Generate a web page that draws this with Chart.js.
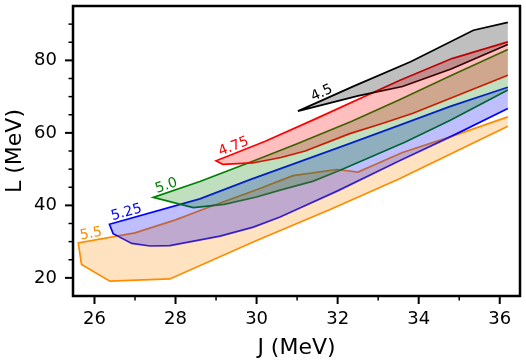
<!DOCTYPE html>
<html>
<head>
<meta charset="utf-8">
<script src="https://cdn.jsdelivr.net/npm/chart.js@4.4.0/dist/chart.umd.min.js"></script>
<style>
  html, body { margin: 0; padding: 0; background: #fff; }
  canvas { display: block; }
</style>
</head>
<body>
<canvas id="chart" width="526" height="362"></canvas>
<script>
// band names and colours
const bandNames = ['4.5', '4.75', '5.0', '5.25', '5.5'];
const bandColors = ['#000000', '#ff0000', '#008000', '#0000ff', '#ff8c00'];

// upper and lower edge of each band, J (MeV) and L (MeV)
const upperJ45 = [31.02, 32.4, 33.8, 35.35, 36.2];
const upperL45 = [66.0, 72.9, 79.6, 88.3, 90.5];
const lowerJ45 = [31.02, 32.5, 33.6, 34.8, 36.2];
const lowerL45 = [66.0, 70.2, 72.8, 77.6, 84.4];

const upperJ475 = [29.0, 30.2, 31.44, 33.54, 34.82, 36.2];
const upperL475 = [52.3, 57.6, 63.8, 74.5, 80.5, 85.1];
const lowerJ475 = [29.0, 29.17, 29.9, 30.6, 31.2, 32.3, 33.1, 33.86, 36.2];
const lowerL475 = [52.3, 51.3, 51.7, 53.2, 55.0, 59.8, 62.6, 65.4, 75.9];

const upperJ50 = [27.45, 28.6, 30.0, 31.0, 32.35, 33.54, 34.8, 36.2];
const upperL50 = [42.2, 46.6, 52.6, 57.0, 63.2, 69.2, 75.8, 83.0];
const lowerJ50 = [27.45, 28.44, 29.2, 30.0, 30.58, 31.4, 32.06, 33.67, 34.78, 36.2];
const lowerL50 = [42.2, 39.4, 40.3, 42.3, 44.2, 46.7, 49.7, 57.5, 63.5, 71.8];

const upperJ525 = [26.37, 28.6, 29.84, 31.0, 32.31, 33.5, 34.78, 36.2];
const upperL525 = [34.8, 41.8, 47.1, 51.8, 57.1, 62.0, 67.3, 72.6];
const lowerJ525 = [26.37, 26.46, 26.92, 27.37, 27.86, 29.1, 29.92, 30.58, 32.0, 33.54, 34.78, 36.2];
const lowerL525 = [34.8, 32.2, 29.5, 28.8, 28.9, 31.5, 34.0, 36.8, 44.0, 52.4, 58.9, 66.7];

const upperJ55 = [25.6, 27.0, 28.0, 28.85, 30.0, 30.9, 31.98, 32.5, 33.6, 34.78, 36.2];
const upperL55 = [29.65, 32.4, 36.0, 39.6, 44.3, 48.2, 49.9, 49.2, 54.6, 58.9, 64.4];
const lowerJ55 = [25.6, 25.68, 26.38, 27.86, 30.0, 31.8, 33.5, 36.2];
const lowerL55 = [29.65, 23.7, 19.1, 19.7, 30.3, 38.8, 47.2, 61.8];

const xTicks = [26, 27, 28, 29, 30, 31, 32, 33, 34, 35, 36];
const yTicks = [20, 25, 30, 35, 40, 45, 50, 55, 60, 65, 70, 75, 80, 85, 90];

const bands = [
  { uJ: upperJ45, uL: upperL45, lJ: lowerJ45, lL: lowerL45 },
  { uJ: upperJ475, uL: upperL475, lJ: lowerJ475, lL: lowerL475 },
  { uJ: upperJ50, uL: upperL50, lJ: lowerJ50, lL: lowerL50 },
  { uJ: upperJ525, uL: upperL525, lJ: lowerJ525, lL: lowerL525 },
  { uJ: upperJ55, uL: upperL55, lJ: lowerJ55, lL: lowerL55 }
];

function pts(J, L) {
  return J.map((j, i) => ({ x: j, y: L[i] }));
}

function alpha(hex, a) {
  const n = parseInt(hex.slice(1), 16);
  return `rgba(${(n >> 16) & 255}, ${(n >> 8) & 255}, ${n & 255}, ${a})`;
}

// closed shape for the fill: upper edge left->right, lower edge back
const fillSets = bands.map((b, i) => ({
  data: pts(b.uJ, b.uL).concat(pts(b.lJ, b.lL).slice(1).reverse()),
  showLine: true,
  fill: 'shape',
  backgroundColor: alpha(bandColors[i], 0.25),
  borderColor: 'rgba(0,0,0,0)',
  borderWidth: 0,
  pointRadius: 0
}));

// open outline: lower edge right->left, then upper edge (no right side)
const lineSets = bands.map((b, i) => ({
  data: pts(b.lJ, b.lL).reverse().concat(pts(b.uJ, b.uL).slice(1)),
  showLine: true,
  fill: false,
  borderColor: bandColors[i],
  borderWidth: 1.7,
  pointRadius: 0
}));

const font = '"DejaVu Sans", sans-serif';

// band names written along the start of each upper edge
const bandLabels = {
  id: 'bandLabels',
  afterDatasetsDraw(chart) {
    const { ctx, scales: { x, y } } = chart;
    const shift = [18, 6, 5, 4, 3];
    bands.forEach((b, i) => {
      const x0 = x.getPixelForValue(b.uJ[0]), y0 = y.getPixelForValue(b.uL[0]);
      const x1 = x.getPixelForValue(b.uJ[1]), y1 = y.getPixelForValue(b.uL[1]);
      ctx.save();
      ctx.translate(x0, y0);
      ctx.rotate(Math.atan2(y1 - y0, x1 - x0));
      ctx.font = '14px ' + font;
      ctx.fillStyle = bandColors[i];
      ctx.textBaseline = 'alphabetic';
      ctx.fillText(bandNames[i], shift[i], -3);
      ctx.restore();
    });
  }
};

// box and tick marks like matplotlib (major + minor)
const frame = {
  id: 'frame',
  afterDraw(chart) {
    const { ctx, chartArea: a, scales: { x, y } } = chart;
    ctx.save();
    ctx.strokeStyle = '#000';
    xTicks.forEach(v => {
      const major = v % 2 === 0;
      const px = x.getPixelForValue(v);
      ctx.lineWidth = major ? 2 : 1.5;
      ctx.beginPath();
      ctx.moveTo(px, a.bottom);
      ctx.lineTo(px, a.bottom + (major ? 8 : 4.5));
      ctx.stroke();
    });
    yTicks.forEach(v => {
      const major = v % 20 === 0;
      const py = y.getPixelForValue(v);
      ctx.lineWidth = major ? 2 : 1.5;
      ctx.beginPath();
      ctx.moveTo(a.left, py);
      ctx.lineTo(a.left - (major ? 8 : 4.5), py);
      ctx.stroke();
    });
    ctx.lineWidth = 2.5;
    ctx.strokeRect(a.left, a.top, a.right - a.left, a.bottom - a.top);
    ctx.restore();
  }
};

new Chart(document.getElementById('chart').getContext('2d'), {
  type: 'scatter',
  data: { datasets: fillSets.concat(lineSets) },
  options: {
    responsive: false,
    animation: false,
    devicePixelRatio: 1,
    layout: { padding: { left: 0, right: 6, top: 6, bottom: 0 } },
    plugins: { legend: { display: false }, tooltip: { enabled: false } },
    scales: {
      x: {
        type: 'linear',
        min: 25.47,
        max: 36.5,
        afterBuildTicks: s => { s.ticks = xTicks.map(v => ({ value: v })); },
        afterFit: s => { s.height = 66; s.paddingLeft = 0; s.paddingRight = 0; },
        grid: { display: false, drawTicks: true, tickLength: 8 },
        border: { display: false },
        ticks: {
          autoSkip: false,
          maxRotation: 0,
          padding: 5,
          color: '#000',
          font: { family: font, size: 18 },
          callback: v => (v % 2 === 0 ? String(v) : '')
        },
        title: {
          display: true,
          text: 'J (MeV)',
          color: '#000',
          font: { family: font, size: 22 },
          padding: { top: 0, bottom: 1 }
        }
      },
      y: {
        type: 'linear',
        min: 15,
        max: 95,
        afterBuildTicks: s => { s.ticks = yTicks.map(v => ({ value: v })); },
        afterFit: s => { s.width = 73; s.paddingTop = 0; s.paddingBottom = 0; },
        grid: { display: false, drawTicks: true, tickLength: 8 },
        border: { display: false },
        ticks: {
          autoSkip: false,
          padding: 8,
          color: '#000',
          font: { family: font, size: 18 },
          callback: v => (v % 20 === 0 ? String(v) : '')
        },
        title: {
          display: true,
          text: 'L (MeV)',
          color: '#000',
          font: { family: font, size: 22 },
          padding: { top: 2, bottom: 0 }
        }
      }
    }
  },
  plugins: [bandLabels, frame]
});
</script>
</body>
</html>
